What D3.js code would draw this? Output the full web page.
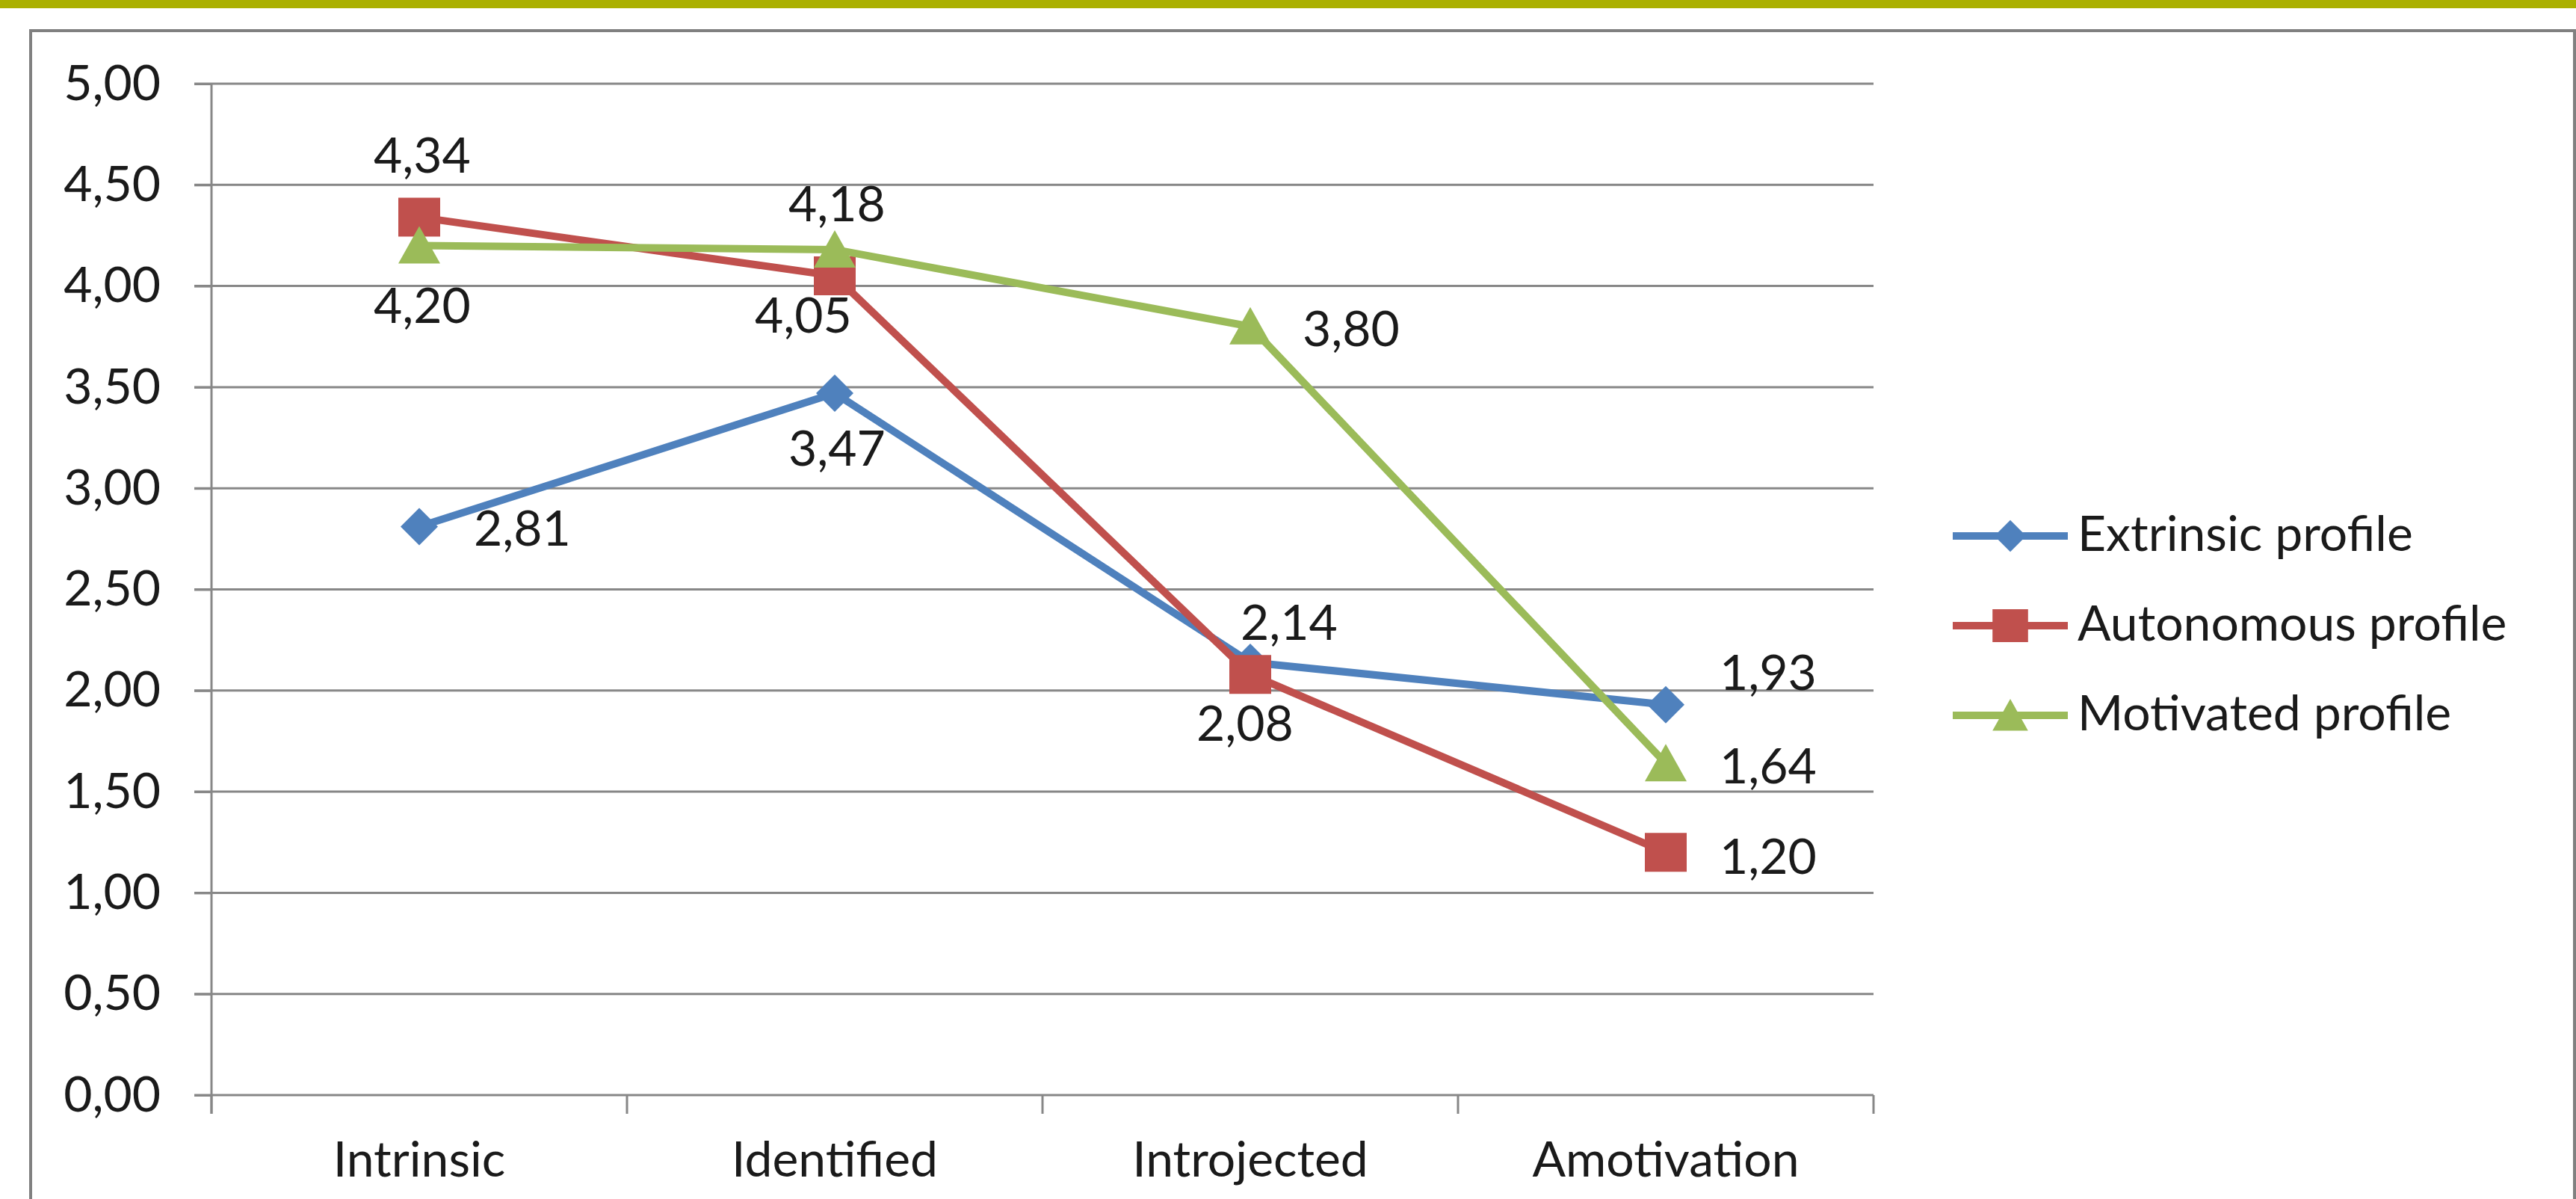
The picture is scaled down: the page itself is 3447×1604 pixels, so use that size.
<!DOCTYPE html>
<html><head><meta charset="utf-8">
<script src="https://cdn.jsdelivr.net/npm/d3@7"></script>
<style>
html,body{margin:0;padding:0;background:#fff;}
svg{display:block;}
text{font-family:Lato,"Open Sans",sans-serif;fill:#1a1a1a;}
</style>
</head><body>
<svg id="chart" width="3447" height="1604"></svg>
<script>
// ---- data ----
const categories = ["Intrinsic", "Identified", "Introjected", "Amotivation"];
const seriesNames = ["Extrinsic profile", "Autonomous profile", "Motivated profile"];
const extrinsic  = [2.81, 3.47, 2.14, 1.93];
const autonomous = [4.34, 4.05, 2.08, 1.20];
const motivated  = [4.20, 4.18, 3.80, 1.64];
const yTicks = [0, 0.5, 1, 1.5, 2, 2.5, 3, 3.5, 4, 4.5, 5];

// ---- layout / style ----
const W = 3447, H = 1604;
const plot = {left: 283, right: 2507, top: 112, bottom: 1465};
const colors = ["#4F81BD", "#C0504D", "#9BBB59"];
const shapes = ["diamond", "square", "triangle"];
const fontSize = 66;
// label centre offsets (px) relative to each point
const labelOffsets = [
  [[138, 2], [3, 74], [52, -53], [137, -43]],
  [[4, -83], [-42, 53], [-7, 66], [137, 6]],
  [[4, 80], [3, -61], [135, 3], [137, 4]]
];

const locale = d3.formatLocale({decimal: ",", thousands: ".", grouping: [3], currency: ["", ""]});
const fmt = locale.format(".2f");

const svg = d3.select("#chart");
svg.append("rect").attr("x", 0).attr("y", 0).attr("width", W).attr("height", H).attr("fill", "#fff");
// top olive bar
svg.append("rect").attr("x", 0).attr("y", 0).attr("width", W).attr("height", 11).attr("fill", "#abb000");
// chart frame
svg.append("rect").attr("x", 41).attr("y", 41).attr("width", W - 43).attr("height", H + 50)
  .attr("fill", "none").attr("stroke", "#808080").attr("stroke-width", 4);

const x = d3.scaleBand().domain(categories).range([plot.left, plot.right]).padding(0);
const y = d3.scaleLinear().domain([0, 5]).range([plot.bottom, plot.top]);

// gridlines
svg.append("g").selectAll("line").data(yTicks).join("line")
  .attr("x1", plot.left - 23).attr("x2", plot.right)
  .attr("y1", d => y(d)).attr("y2", d => y(d))
  .attr("stroke", "#878787").attr("stroke-width", 3);

// y axis
const yAxis = svg.append("g").attr("transform", `translate(${plot.left},0)`)
  .call(d3.axisLeft(y).tickValues(yTicks).tickSize(23).tickPadding(45).tickFormat(fmt));
yAxis.select(".domain").attr("stroke", "#878787").attr("stroke-width", 3)
  .attr("d", `M0,${plot.top}V${plot.bottom + 25}`);
yAxis.selectAll(".tick line").attr("stroke", "#878787").attr("stroke-width", 3);
yAxis.selectAll(".tick text").attr("font-size", fontSize).attr("font-family", "Lato").attr("fill", "#1a1a1a");

// x axis
const xAxis = svg.append("g").attr("transform", `translate(0,${plot.bottom})`)
  .call(d3.axisBottom(x).tickSize(0).tickPadding(62));
xAxis.select(".domain").remove();
xAxis.selectAll(".tick text").attr("font-size", fontSize).attr("font-family", "Lato").attr("fill", "#1a1a1a");
// category boundary ticks
const bounds = categories.map(c => x(c)).concat([x(categories[categories.length - 1]) + x.bandwidth()]);
svg.append("g").selectAll("line").data(bounds).join("line")
  .attr("x1", d => d).attr("x2", d => d)
  .attr("y1", plot.bottom).attr("y2", plot.bottom + 25)
  .attr("stroke", "#878787").attr("stroke-width", 3);

function markerPath(shape, s) {
  if (shape === "diamond") return `M0,${-25*s}L${25*s},0L0,${25*s}L${-25*s},0Z`;
  if (shape === "square") return `M${-28*s},${-26*s}H${28*s}V${26*s}H${-28*s}Z`;
  return `M0,${-26*s}L${28*s},${24*s}L${-28*s},${24*s}Z`;
}

const allSeries = [extrinsic, autonomous, motivated];
const cx = c => x(c) + x.bandwidth() / 2;
const line = d3.line().x((d, i) => cx(categories[i])).y(d => y(d));

allSeries.forEach((vals, si) => {
  const g = svg.append("g");
  g.append("path").datum(vals).attr("d", line)
    .attr("fill", "none").attr("stroke", colors[si]).attr("stroke-width", 10)
    .attr("stroke-linejoin", "round");
  g.selectAll("path.m").data(vals).join("path").attr("class", "m")
    .attr("transform", (d, i) => `translate(${cx(categories[i])},${y(d)})`)
    .attr("d", markerPath(shapes[si], 1)).attr("fill", colors[si]);
});

// data labels
allSeries.forEach((vals, si) => {
  svg.append("g").selectAll("text").data(vals).join("text")
    .attr("x", (d, i) => cx(categories[i]) + labelOffsets[si][i][0])
    .attr("y", (d, i) => y(d) + labelOffsets[si][i][1])
    .attr("dy", "0.35em").attr("text-anchor", "middle")
    .attr("font-size", fontSize).text(d => fmt(d));
});

// legend
const legend = svg.append("g");
const legX1 = 2613, legX2 = 2767, legY0 = 717, legStep = 120;
seriesNames.forEach((name, si) => {
  const ly = legY0 + si * legStep;
  legend.append("line").attr("x1", legX1).attr("x2", legX2).attr("y1", ly).attr("y2", ly)
    .attr("stroke", colors[si]).attr("stroke-width", 10);
  legend.append("path").attr("transform", `translate(${(legX1 + legX2) / 2},${ly})`)
    .attr("d", markerPath(shapes[si], 0.85)).attr("fill", colors[si]);
  legend.append("text").attr("x", 2780).attr("y", ly).attr("dy", "0.3em")
    .attr("font-size", fontSize).text(name);
});
</script>
</body></html>
